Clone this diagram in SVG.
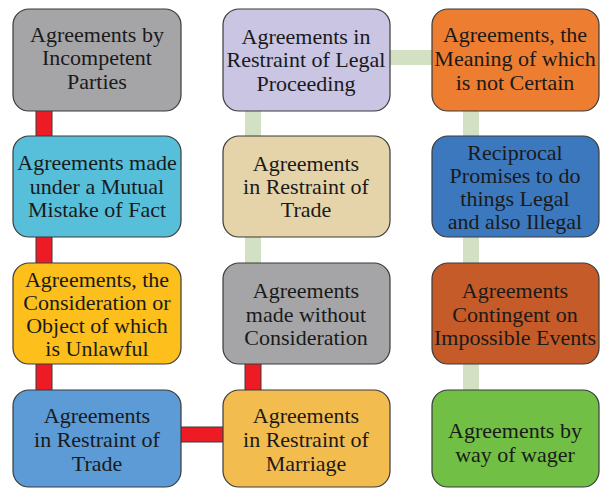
<svg xmlns="http://www.w3.org/2000/svg" width="603" height="488" viewBox="0 0 603 488">
<style>
.box{stroke:#3a3a3a;stroke-width:1.2}
.t{font-family:"Liberation Serif","DejaVu Serif",serif;font-size:22px;fill:#1a1a1a;text-anchor:middle}
.red{fill:#ED1C24;stroke:#3a3a3a;stroke-width:1}
.grn{fill:#D3E0C3}
</style>
<rect width="603" height="488" fill="#ffffff"/>
<g id="connectors">
<rect class="red" x="36" y="105" width="16" height="36"/>
<rect class="red" x="36" y="232" width="16" height="36"/>
<rect class="red" x="36" y="359" width="16" height="36"/>
<rect class="red" x="176" y="427" width="52" height="15"/>
<rect class="red" x="245" y="359" width="16" height="36"/>
<rect class="grn" x="245" y="105" width="16" height="36"/>
<rect class="grn" x="245" y="232" width="16" height="36"/>
<rect class="grn" x="385" y="50" width="52" height="15"/>
<rect class="grn" x="463" y="105" width="16" height="36"/>
<rect class="grn" x="463" y="232" width="16" height="36"/>
<rect class="grn" x="463" y="359" width="16" height="36"/>
</g>
<g id="n1"><rect class="box" x="13" y="9" width="168" height="102" rx="16" fill="#A5A5A7"/>
<text class="t" x="97" y="42">Agreements by</text><text class="t" x="97" y="65">Incompetent</text><text class="t" x="97" y="89">Parties</text></g>
<g id="n2"><rect class="box" x="13" y="136" width="168" height="101" rx="16" fill="#57BFDA"/>
<text class="t" x="97" y="170">Agreements made</text><text class="t" x="97" y="194">under a Mutual</text><text class="t" x="97" y="217">Mistake of Fact</text></g>
<g id="n3"><rect class="box" x="13" y="263" width="168" height="101" rx="16" fill="#FDBF1B"/>
<text class="t" x="97" y="287">Agreements, the</text><text class="t" x="97" y="310">Consideration or</text><text class="t" x="97" y="333">Object of which</text><text class="t" x="97" y="356">is Unlawful</text></g>
<g id="n4"><rect class="box" x="13" y="390" width="168" height="97" rx="16" fill="#5C9BD5"/>
<text class="t" x="97" y="423">Agreements</text><text class="t" x="97" y="447">in Restraint of</text><text class="t" x="97" y="471">Trade</text></g>
<g id="n5"><rect class="box" x="223" y="9" width="167" height="102" rx="16" fill="#C9C5E3"/>
<text class="t" x="306" y="44">Agreements in</text><text class="t" x="306" y="67">Restraint of Legal</text><text class="t" x="306" y="91">Proceeding</text></g>
<g id="n6"><rect class="box" x="223" y="136" width="167" height="101" rx="16" fill="#E5D3AA"/>
<text class="t" x="306" y="171">Agreements</text><text class="t" x="306" y="194">in Restraint of</text><text class="t" x="306" y="217">Trade</text></g>
<g id="n7"><rect class="box" x="223" y="263" width="167" height="101" rx="16" fill="#A5A5A7"/>
<text class="t" x="306" y="298">Agreements</text><text class="t" x="306" y="322">made without</text><text class="t" x="306" y="345">Consideration</text></g>
<g id="n8"><rect class="box" x="223" y="390" width="167" height="97" rx="16" fill="#F3BC4E"/>
<text class="t" x="306" y="423">Agreements</text><text class="t" x="306" y="447">in Restraint of</text><text class="t" x="306" y="471">Marriage</text></g>
<g id="n9"><rect class="box" x="432" y="9" width="167" height="102" rx="16" fill="#ED7D31"/>
<text class="t" x="515" y="42">Agreements, the</text><text class="t" x="515" y="66">Meaning of which</text><text class="t" x="515" y="90">is not Certain</text></g>
<g id="n10"><rect class="box" x="432" y="136" width="167" height="101" rx="16" fill="#3C78BE"/>
<text class="t" x="515" y="160">Reciprocal</text><text class="t" x="515" y="183">Promises to do</text><text class="t" x="515" y="206">things Legal</text><text class="t" x="515" y="229">and also Illegal</text></g>
<g id="n11"><rect class="box" x="432" y="263" width="167" height="101" rx="16" fill="#C55B28"/>
<text class="t" x="515" y="298">Agreements</text><text class="t" x="515" y="322">Contingent on</text><text class="t" x="515" y="345">Impossible Events</text></g>
<g id="n12"><rect class="box" x="432" y="390" width="167" height="97" rx="16" fill="#71BF44"/>
<text class="t" x="515" y="438">Agreements by</text><text class="t" x="515" y="462">way of wager</text></g>
</svg>
